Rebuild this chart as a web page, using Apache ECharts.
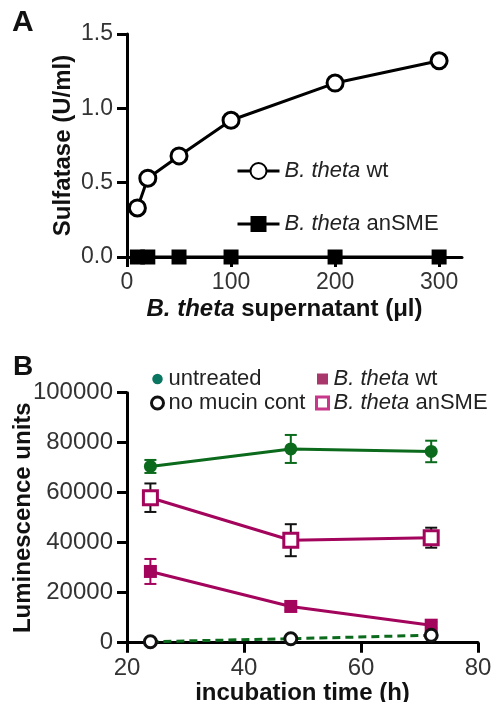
<!DOCTYPE html>
<html><head><meta charset="utf-8">
<script src="https://cdn.jsdelivr.net/npm/echarts@6/dist/echarts.min.js"></script>
<style>html,body{margin:0;padding:0;background:#fff}#c{width:494px;height:702px}</style>
</head><body><div id="c"></div>
<script>
// Panel A
const volumeA = [10, 20, 50, 100, 200, 300];
const wtA = [0.33, 0.53, 0.68, 0.92, 1.17, 1.32];
const anSMEA = [0, 0, 0, 0, 0, 0];
const ticksAx = [0, 100, 200, 300];
const ticksAy = [0, 0.5, 1.0, 1.5];
// Panel B
const timeB = [24, 48, 72];
const untreated = [70500, 77500, 76500];
const untreatedErr = [2600, 5600, 4300];
const wtB = [28500, 14500, 7000];
const wtBErr = [5000, 1500, 1200];
const anSMEB = [58000, 41000, 42000];
const anSMEBErr = [5700, 6400, 4000];
const noMucin = [400, 1600, 3000];
const ticksBx = [20, 40, 60, 80];
const ticksBy = [0, 20000, 40000, 60000, 80000, 100000];

const FONT = "'Liberation Sans', Arial, Helvetica, sans-serif";
const GREEN = '#0b6a1c';
const MAG = '#a3045c';

function zip(a, b) { return a.map((v, i) => [v, b[i]]); }

function axisCommon(grid) {
  return {
    gridIndex: grid,
    nameMoveOverlap: false,
    axisLine: { show: true, onZero: false, lineStyle: { color: '#000', width: 3 } },
    splitLine: { show: false }
  };
}

function errSeries(xs, ys, es, color) {
  return {
    type: 'custom', xAxisIndex: 1, yAxisIndex: 1, silent: true, z: 1,
    encode: { x: 0, y: [1, 2] },
    data: xs.map((x, i) => [x, ys[i] - es[i], ys[i] + es[i]]),
    renderItem(params, api) {
      const x = api.value(0);
      const lo = api.coord([x, api.value(1)]);
      const hi = api.coord([x, api.value(2)]);
      const w = 6;
      const st = { stroke: color, lineWidth: 2 };
      return { type: 'group', children: [
        { type: 'line', shape: { x1: lo[0], y1: lo[1], x2: hi[0], y2: hi[1] }, style: st },
        { type: 'line', shape: { x1: lo[0] - w, y1: lo[1], x2: lo[0] + w, y2: lo[1] }, style: st },
        { type: 'line', shape: { x1: hi[0] - w, y1: hi[1], x2: hi[0] + w, y2: hi[1] }, style: st }
      ] };
    }
  };
}

const richLegend = { i: { fontStyle: 'italic', fontSize: 22, fontFamily: FONT, color: '#222' } };
function legendFmt(name) {
  if (name.indexOf('B. theta') === 0) return '{i|B. theta}' + name.slice(8);
  return name;
}

const chart = echarts.init(document.getElementById('c'));
chart.setOption({
  animation: false,
  textStyle: { fontFamily: FONT },
  grid: [
    { left: 127, right: 32, top: 34, bottom: 445, outerBoundsMode: 'none', containLabel: false },
    { left: 127, right: 16, top: 392.7, bottom: 59.3, outerBoundsMode: 'none', containLabel: false }
  ],
  xAxis: [
    Object.assign(axisCommon(0), {
      type: 'value', min: 0, max: 322,
      axisTick: { show: true, length: 10, customValues: ticksAx, lineStyle: { color: '#000', width: 3 } },
      axisLabel: { customValues: ticksAx, fontSize: 23, color: '#333', margin: 14, fontFamily: FONT },
      name: '{i|B. theta} supernatant (\u03bcl)', nameLocation: 'middle', nameGap: 40,
      nameTextStyle: { fontFamily: FONT, fontWeight: 'bold', fontSize: 24, color: '#111', padding: [0, 20, 0, 0],
        rich: { i: { fontStyle: 'italic', fontWeight: 'bold', fontSize: 24, fontFamily: FONT, color: '#111' } } }
    }),
    Object.assign(axisCommon(1), {
      type: 'value', min: 20, max: 80, interval: 20,
      axisLabel: { customValues: ticksBx, fontSize: 24, color: '#333', margin: 14, fontFamily: FONT, formatter: v => String(v) },
      axisTick: { show: true, length: 10, customValues: ticksBx, lineStyle: { color: '#000', width: 3 } },
      name: 'incubation time (h)', nameLocation: 'middle', nameGap: 39,
      nameTextStyle: { fontFamily: FONT, fontWeight: 'bold', fontSize: 24, color: '#111' }
    })
  ],
  yAxis: [
    Object.assign(axisCommon(0), {
      type: 'value', min: 0, max: 1.5, interval: 0.5,
      axisLabel: { customValues: ticksAy, fontSize: 23, color: '#333', margin: 14, fontFamily: FONT, formatter: v => v.toFixed(1) },
      axisTick: { show: true, length: 10, customValues: ticksAy, lineStyle: { color: '#000', width: 3 } },
      name: 'Sulfatase (U/ml)', nameLocation: 'middle', nameGap: 52,
      nameTextStyle: { fontFamily: FONT, fontWeight: 'bold', fontSize: 24, color: '#111' }
    }),
    Object.assign(axisCommon(1), {
      type: 'value', min: 0, max: 100000, interval: 20000,
      axisLabel: { customValues: ticksBy, fontSize: 24, color: '#333', margin: 14, fontFamily: FONT, formatter: v => String(v) },
      axisTick: { show: true, length: 10, customValues: ticksBy, lineStyle: { color: '#000', width: 3 } },
      name: 'Luminescence units', nameLocation: 'middle', nameGap: 92,
      nameTextStyle: { fontFamily: FONT, fontWeight: 'bold', fontSize: 24, color: '#111' }
    })
  ],
  legend: [
    {
      data: ['B. theta wt', 'B. theta anSME'], selectedMode: false,
      left: 231, top: 155, orient: 'vertical', itemWidth: 42, itemHeight: 20, itemGap: 31,
      formatter: legendFmt,
      lineStyle: { width: 3, color: '#000' },
      textStyle: { fontSize: 22, color: '#222', fontFamily: FONT, lineHeight: 22, rich: richLegend }
    },
    {
      data: [
        { name: 'untreated', icon: 'circle', itemStyle: { color: '#0a7560', borderColor: '#fff', borderWidth: 1.5 } },
        { name: 'no mucin cont', icon: 'circle', itemStyle: { color: '#fff', borderColor: '#111', borderWidth: 3 } }
      ],
      selectedMode: false, left: 145, top: 363, orient: 'vertical', itemWidth: 12, itemHeight: 12, itemGap: 2,
      textStyle: { fontSize: 22, color: '#222', fontFamily: FONT, lineHeight: 22 }
    },
    {
      data: [
        { name: 'B. theta wt ', icon: 'rect', itemStyle: { color: '#a8386c', borderColor: '#fff', borderWidth: 1 } },
        { name: 'B. theta anSME ', icon: 'rect', itemStyle: { color: '#fff', borderColor: '#c8388a', borderWidth: 3 } }
      ],
      selectedMode: false, left: 310, top: 363, orient: 'vertical', itemWidth: 12, itemHeight: 12, itemGap: 2,
      formatter: legendFmt,
      textStyle: { fontSize: 22, color: '#222', fontFamily: FONT, lineHeight: 22, rich: richLegend }
    }
  ],
  graphic: [
    { type: 'text', left: 12, top: 8, style: { text: 'A', font: "bold 30px " + FONT, fill: '#111' } },
    { type: 'text', left: 13, top: 353, style: { text: 'B', font: "bold 28px " + FONT, fill: '#111' } }
  ],
  series: [
    {
      name: 'B. theta anSME', type: 'line', xAxisIndex: 0, yAxisIndex: 0,
      data: zip(volumeA, anSMEA), symbol: 'rect', symbolSize: 15,
      itemStyle: { color: '#000' }, lineStyle: { color: '#000', width: 3 }, z: 3
    },
    {
      name: 'B. theta wt', type: 'line', xAxisIndex: 0, yAxisIndex: 0,
      data: zip(volumeA, wtA), symbol: 'circle', symbolSize: 16, showAllSymbol: true,
      itemStyle: { color: '#fff', borderColor: '#000', borderWidth: 3 }, lineStyle: { color: '#000', width: 3 }, z: 4
    },
    errSeries(timeB, untreated, untreatedErr, GREEN),
    errSeries(timeB, wtB, wtBErr, MAG),
    errSeries(timeB, anSMEB, anSMEBErr, '#111'),
    {
      name: 'untreated', type: 'line', xAxisIndex: 1, yAxisIndex: 1,
      data: zip(timeB, untreated), symbol: 'circle', symbolSize: 13,
      itemStyle: { color: GREEN }, lineStyle: { color: GREEN, width: 3 }, z: 3
    },
    {
      name: 'B. theta wt ', type: 'line', xAxisIndex: 1, yAxisIndex: 1,
      data: zip(timeB, wtB), symbol: 'rect', symbolSize: 13,
      itemStyle: { color: MAG }, lineStyle: { color: MAG, width: 3 }, z: 3
    },
    {
      name: 'B. theta anSME ', type: 'line', xAxisIndex: 1, yAxisIndex: 1,
      data: zip(timeB, anSMEB), symbol: 'rect', symbolSize: 14,
      itemStyle: { color: '#fff', borderColor: MAG, borderWidth: 3 }, lineStyle: { color: MAG, width: 3 }, z: 3
    },
    {
      name: 'no mucin cont', type: 'line', xAxisIndex: 1, yAxisIndex: 1,
      data: zip(timeB, noMucin), symbol: 'circle', symbolSize: 12,
      itemStyle: { color: '#fff', borderColor: '#111', borderWidth: 3 },
      lineStyle: { color: GREEN, width: 3, type: [8, 5] }, z: 4
    }
  ]
});
</script></body></html>
